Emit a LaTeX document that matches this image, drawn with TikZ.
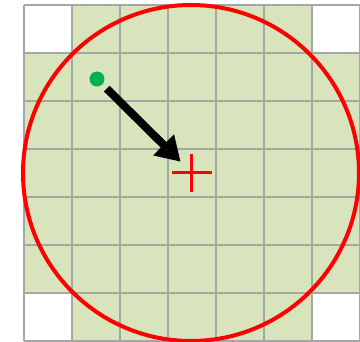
\documentclass[tikz,border=0pt]{standalone}
\usepackage{tikz}
\usetikzlibrary{arrows.meta}
\definecolor{cellgreen}{RGB}{216,228,188}
\definecolor{gridgray}{RGB}{166,166,166}
\definecolor{dotgreen}{RGB}{0,176,80}

\begin{document}
\begin{tikzpicture}[x=1pt, y=-1pt]
        \useasboundingbox (0,0) rectangle (360,342);
        % cells
        \fill[cellgreen] (24,5) rectangle (360,341);
        \fill[white] (24,5) rectangle (72,53);
        \fill[white] (312,5) rectangle (360,53);
        \fill[white] (24,293) rectangle (72,341);
        \fill[white] (312,293) rectangle (360,341);
        \foreach \i in {0,...,7} {
            \draw[gridgray, line width=2pt] (24+48*\i,5) -- (24+48*\i,341);
            \draw[gridgray, line width=2pt] (24,5+48*\i) -- (360,5+48*\i);
        }
        \node[circle, draw=red, line width=4pt, minimum size=336pt, inner sep=0pt] (disk) at (191,173) {};
        \coordinate (mid) at (192,173);
        \draw[red, line width=3pt] ([xshift=-20pt]mid) -- ([xshift=20pt]mid);
        \draw[red, line width=3pt] ([yshift=-19pt]mid) -- ([yshift=19pt]mid);
        \node[circle, fill=dotgreen, minimum size=15pt, inner sep=0pt] (dot) at (97,79) {};
        \draw[-{Triangle[length=24pt, width=28pt]}, line width=8pt, shorten <=6pt, shorten >=16pt] (dot) -- (mid);
    \end{tikzpicture}
\end{document}
